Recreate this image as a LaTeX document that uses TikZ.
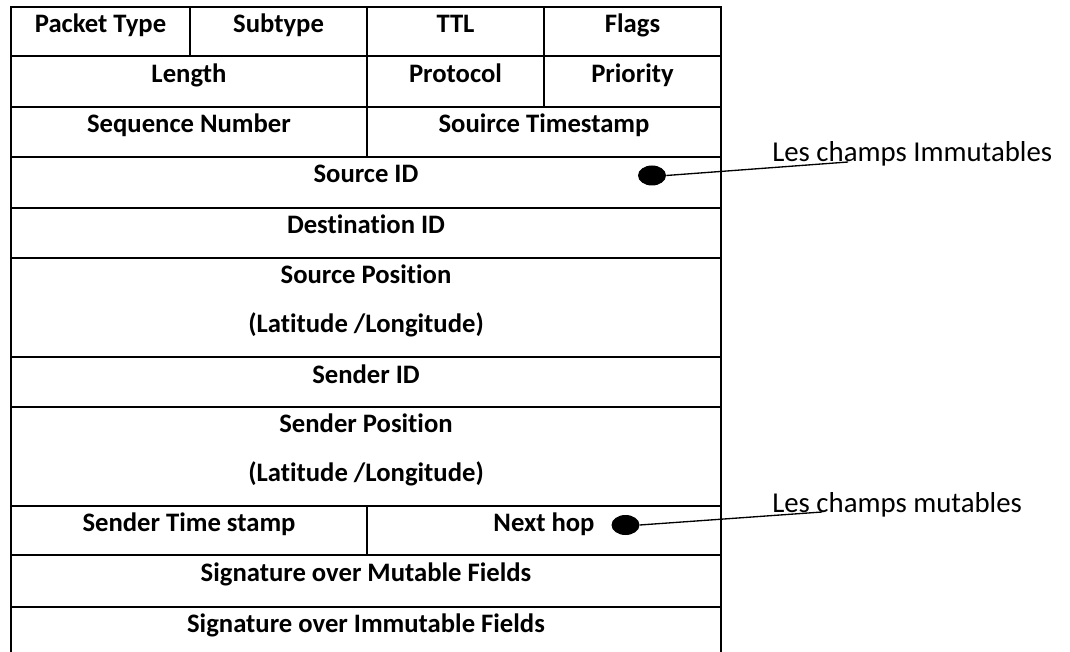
\documentclass[tikz,border=0pt]{standalone}
\usepackage{fontspec}
\setmainfont{Carlito}[Ligatures={NoCommon}]
\usetikzlibrary{shapes.geometric}
\begin{document}
\begin{tikzpicture}[x=0.75pt,y=-0.75pt,
  grid/.style={line width=1.5pt},
  cell/.style={anchor=base,inner sep=0pt,font=\fontsize{20}{24}\selectfont\bfseries},
  note/.style={anchor=base west,inner sep=0pt,font=\fontsize{21.6}{26}\selectfont},
  dot/.style={ellipse,fill=black,minimum width=21pt,minimum height=15pt,inner sep=0pt},
  lead/.style={line width=1pt}]
\useasboundingbox (0,0) rectangle (1070,652);

% packet frame (open at the bottom)
\draw[grid] (11,652) -- (11,7) -- (721,7) -- (721,652);
\foreach \y in {56.5,106.7,156.7,207.7,257.7,356.7,406.7,506,555.3,606.7}
  \draw[grid] (11,\y) -- (721,\y);

% column dividers
\draw[grid] (190,7) -- (190,56.5);
\draw[grid] (367,7) -- (367,156.7);
\draw[grid] (544,7) -- (544,106.7);
\draw[grid] (367,506) -- (367,555.3);

% header fields
\node[cell] (ptype) at (100.5,33) {Packet Type};
\node[cell] (stype) at (278.5,33) {Subtype};
\node[cell] (ttl)   at (455.5,33) {TTL};
\node[cell] (flags) at (632.5,33) {Flags};

\node[cell] (len)   at (189,82.5)   {Length};
\node[cell] (proto) at (455.5,82.5) {Protocol};
\node[cell] (prio)  at (632.5,82.5) {Priority};

\node[cell] (seq) at (189,132.7) {Sequence Number};
\node[cell] (sts) at (544,132.7) {Souirce Timestamp};

\node[cell] (srcid) at (366,183)   {Source ID};
\node[cell] (dstid) at (366,233.7) {Destination ID};

\node[cell] (srcpos)  at (366,283.7) {Source Position};
\node[cell] (srcpos2) at (366,332.7) {(Latitude /Longitude)};

\node[cell] (sndid) at (366,383) {Sender ID};

\node[cell] (sndpos)  at (366,432.7) {Sender Position};
\node[cell] (sndpos2) at (366,481.5) {(Latitude /Longitude)};

\node[cell] (sndts)   at (189,531.5) {Sender Time stamp};
\node[cell] (nexthop) at (544,531.5) {Next hop};

\node[cell] (sigmut) at (366,581.5) {Signature over Mutable Fields};
\node[cell] (sigimm) at (366,632.7) {Signature over Immutable Fields};

% field-class annotations
\node[dot] (dotImm) at (652,175.5) {};
\node[dot] (dotMut) at (625.5,525) {};

\node[note] (lblImm) at (772,162) {Les champs Immutables};
\node[note] (lblMut) at (772,512) {Les champs mutables};

\coordinate (endImm) at (848,162);
\coordinate (endMut) at (822,512);

\draw[lead] (dotImm.east) -- (endImm);
\draw[lead] (dotMut.east) -- (endMut);
\end{tikzpicture}
\end{document}
